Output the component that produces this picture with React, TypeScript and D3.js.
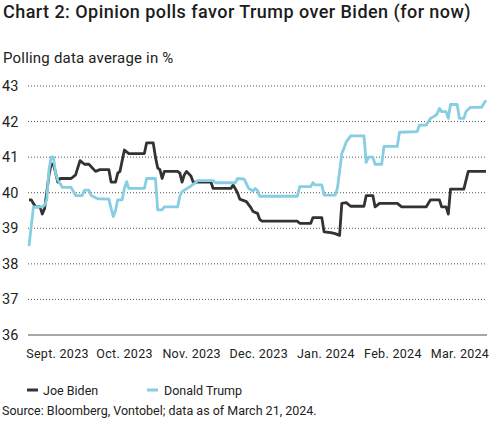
import React from "react";
import * as d3 from "d3";

const TITLE = "Chart 2: Opinion polls favor Trump over Biden (for now)";
const SUBTITLE = "Polling data average in %";
const SOURCE = "Source: Bloomberg, Vontobel; data as of March 21, 2024.";

const START = new Date(2023, 7, 28);
const LAST_DAY = 206;

const monthLabels = ["Sept. 2023", "Oct. 2023", "Nov. 2023", "Dec. 2023", "Jan. 2024", "Feb. 2024", "Mar. 2024"];
const yTicks = [36, 37, 38, 39, 40, 41, 42, 43];

const bidenDays = [0, 1, 2, 3, 5, 6, 7, 8, 9, 10, 11, 13, 14, 19, 21, 23, 25, 27, 30, 32, 36, 37, 39, 40, 41, 43, 45, 52, 53, 56, 57, 58, 59, 60, 61, 67, 68, 69, 70, 71, 73, 74, 82, 83, 91, 92, 94, 95, 98, 100, 101, 103, 104, 105, 121, 122, 127, 128, 132, 133, 136, 138, 140, 141, 143, 145, 151, 152, 155, 156, 158, 166, 168, 179, 181, 185, 186, 188, 189, 190, 196, 198, 206];
const bidenValues = [39.8, 39.8, 39.7, 39.6, 39.6, 39.4, 39.55, 40.0, 40.5, 40.8, 40.8, 40.3, 40.4, 40.4, 40.5, 40.9, 40.8, 40.8, 40.6, 40.65, 40.65, 40.3, 40.3, 40.55, 40.6, 41.2, 41.1, 41.1, 41.4, 41.4, 41.0, 40.7, 40.65, 40.4, 40.6, 40.6, 40.55, 40.3, 40.5, 40.6, 40.47, 40.3, 40.3, 40.12, 40.12, 40.22, 40.0, 39.82, 39.75, 39.58, 39.47, 39.42, 39.25, 39.2, 39.2, 39.14, 39.14, 39.3, 39.3, 38.9, 38.88, 38.85, 38.8, 39.7, 39.72, 39.62, 39.62, 39.92, 39.92, 39.6, 39.7, 39.7, 39.6, 39.6, 39.8, 39.8, 39.6, 39.6, 39.4, 40.1, 40.1, 40.6, 40.6];

const trumpDays = [0, 2, 6, 7, 8, 9, 10, 11, 12, 13, 14, 15, 19, 21, 24, 25, 27, 28, 31, 36, 37, 38, 39, 40, 42, 43, 44, 45, 52, 53, 57, 58, 60, 61, 67, 68, 69, 73, 75, 76, 83, 84, 93, 94, 97, 99, 101, 102, 103, 104, 121, 122, 127, 128, 129, 132, 133, 138, 139, 140, 141, 142, 143, 145, 151, 152, 153, 155, 156, 159, 160, 166, 167, 175, 176, 179, 181, 183, 184, 185, 186, 188, 189, 190, 193, 194, 196, 197, 199, 204, 206];
const trumpValues = [38.5, 39.6, 39.6, 39.65, 39.8, 40.64, 41.0, 41.0, 40.55, 40.35, 40.26, 40.15, 40.15, 39.92, 39.92, 40.07, 40.07, 39.92, 39.83, 39.82, 39.56, 39.33, 39.5, 39.8, 39.8, 40.12, 40.31, 40.12, 40.12, 40.4, 40.4, 39.52, 39.52, 39.6, 39.6, 39.9, 40.03, 40.19, 40.28, 40.34, 40.34, 40.28, 40.28, 40.4, 40.38, 40.12, 40.05, 40.12, 40.06, 39.9, 39.9, 40.17, 40.17, 40.28, 40.22, 40.22, 39.93, 39.93, 40.12, 40.59, 41.1, 41.25, 41.43, 41.6, 41.6, 40.85, 41.0, 41.0, 40.8, 40.8, 41.3, 41.3, 41.7, 41.72, 41.9, 41.9, 42.09, 42.16, 42.22, 42.37, 42.28, 42.28, 42.09, 42.48, 42.48, 42.09, 42.09, 42.28, 42.4, 42.4, 42.6];

const BIDEN_COLOR = "#333333";
const TRUMP_COLOR = "#86CEE1";
const FONT = "Roboto, 'Liberation Sans', sans-serif";

type Pt = { date: Date; value: number };

function build(days: number[], values: number[]): Pt[] {
  return days.map((d, i) => ({ date: d3.timeDay.offset(START, d), value: values[i] }));
}

export default function App() {
  const width = 489;
  const height = 422;
  const plotLeft = 28;
  const plotRight = 487;

  const x = d3.scaleTime().domain([START, d3.timeDay.offset(START, LAST_DAY)]).range([29, 486]);
  const y = d3.scaleLinear().domain([36, 43]).range([335, 86]);
  const xLabel = d3.scalePoint<string>().domain(monthLabels).range([57.5, 460]);

  const line = d3.line<Pt>().x((d) => x(d.date)).y((d) => y(d.value)).curve(d3.curveLinear);
  const biden = build(bidenDays, bidenValues);
  const trump = build(trumpDays, trumpValues);

  return (
    <svg width={width} height={height} style={{ position: "absolute", left: 0, top: 0, background: "#fff" }} fontFamily={FONT}>
      <text x={3} y={18} fontSize={18} fontWeight={500} letterSpacing={0.45} fill="#1c1c1c">{TITLE}</text>
      <text x={3} y={63} fontSize={15} letterSpacing={0.2} fill="#222">{SUBTITLE}</text>

      {yTicks.map((t) => (
        <g key={t}>
          <line x1={plotLeft} x2={plotRight} y1={y(t)} y2={y(t)}
            stroke={t === 36 ? "#8a8a8a" : "#555"} strokeWidth={t === 36 ? 1.5 : 1}
            strokeDasharray={t === 36 ? undefined : "1 2"} />
          <text x={2} y={y(t) + 5} fontSize={14.5} fill="#222">{t}</text>
        </g>
      ))}

      {monthLabels.map((m) => (
        <text key={m} x={xLabel(m)} y={358} fontSize={12.5} letterSpacing={0.3} textAnchor="middle" fill="#222">{m}</text>
      ))}

      <path d={line(biden) || ""} fill="none" stroke={BIDEN_COLOR} strokeWidth={2.8} strokeLinejoin="round" />
      <path d={line(trump) || ""} fill="none" stroke={TRUMP_COLOR} strokeWidth={2.8} strokeLinejoin="round" />

      <line x1={27} x2={38} y1={390} y2={390} stroke={BIDEN_COLOR} strokeWidth={3} />
      <text x={43} y={394.5} fontSize={12.5} fill="#222">Joe Biden</text>
      <line x1={147} x2={158} y1={390} y2={390} stroke={TRUMP_COLOR} strokeWidth={3} />
      <text x={164} y={394.5} fontSize={12.5} fill="#222">Donald Trump</text>

      <text x={2} y={415} fontSize={12.5} fill="#222">{SOURCE}</text>
    </svg>
  );
}
